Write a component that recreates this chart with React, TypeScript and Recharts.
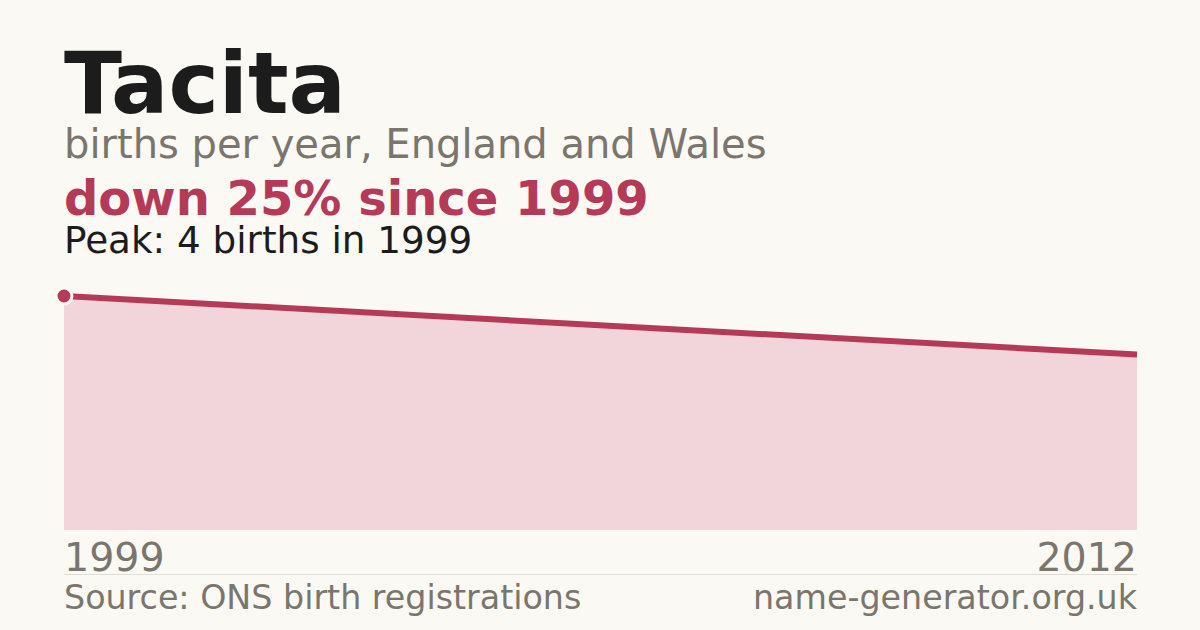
import { AreaChart, Area, XAxis, YAxis } from "recharts";

const years = [1999, 2012];
const births = [4, 3];
const yTicks = [0, 4];

const data = years.map((year, i) => ({ year, births: births[i] }));

const BG = "#faf9f4";
const RED = "#b43a58";
const GREY = "#7a756d";
const FONT = "'DejaVu Sans', sans-serif";
// baseline sits at 0.846em below the top of a line-height:1 box for DejaVu Sans
const BASE = 0.846;

const YearTick = (props: any) => {
  const { x, y, payload } = props;
  const first = payload.value === years[0];
  return (
    <text
      x={x}
      y={y + 33}
      textAnchor={first ? "start" : "end"}
      fill={GREY}
      fontSize={39.5}
      fontFamily={FONT}
    >
      {payload.value}
    </text>
  );
};

const PeakDot = (props: any) => {
  const { cx, cy, index } = props;
  if (index !== 0) return <g key={`d${index}`} />;
  return (
    <circle
      key={`d${index}`}
      cx={cx}
      cy={cy}
      r={8}
      fill={RED}
      stroke={BG}
      strokeWidth={3}
    />
  );
};

const textAt = (baseline: number, size: number) => ({
  position: "absolute" as const,
  top: baseline - size * BASE,
  fontSize: size,
  lineHeight: 1,
  whiteSpace: "nowrap" as const,
});

const App = () => {
  return (
    <div
      style={{
        position: "absolute",
        left: 0,
        top: 0,
        width: 1200,
        height: 630,
        background: BG,
        fontFamily: FONT,
        overflow: "hidden",
      }}
    >
      <div style={{ position: "absolute", left: 64, top: 0, width: 1100 }}>
        <div style={{ ...textAt(113, 85), fontWeight: 700, color: "#1c1c1c" }}>
          Tacita
        </div>
        <div style={{ ...textAt(158, 40), color: GREY }}>
          births per year, England and Wales
        </div>
        <div style={{ ...textAt(215, 48), fontWeight: 700, color: RED }}>
          down 25% since 1999
        </div>
        <div style={{ ...textAt(254, 37.3), color: "#1c1c1c" }}>
          Peak: 4 births in 1999
        </div>
      </div>

      <div style={{ position: "absolute", left: 0, top: 0 }}>
        <AreaChart
          width={1200}
          height={630}
          data={data}
          margin={{ top: 296, right: 63, left: 64, bottom: 60 }}
        >
          <XAxis
            dataKey="year"
            type="number"
            domain={[years[0], years[years.length - 1]]}
            ticks={years}
            axisLine={false}
            tickLine={false}
            height={40}
            tick={<YearTick />}
            interval={0}
          />
          <YAxis hide domain={[yTicks[0], yTicks[1]]} />
          <Area
            type="linear"
            dataKey="births"
            stroke={RED}
            strokeWidth={6}
            fill="#f2d5da"
            fillOpacity={1}
            dot={<PeakDot />}
            activeDot={false}
            isAnimationActive={false}
          />
        </AreaChart>
      </div>

      <div
        style={{
          position: "absolute",
          left: 64,
          top: 574,
          width: 1073,
          height: 1,
          background: "#e0ddd6",
        }}
      />
      <div style={{ ...textAt(609, 33.3), left: 64, color: GREY }}>
        Source: ONS birth registrations
      </div>
      <div style={{ ...textAt(609, 33.3), right: 63, color: GREY }}>
        name-generator.org.uk
      </div>
    </div>
  );
};

export default App;
